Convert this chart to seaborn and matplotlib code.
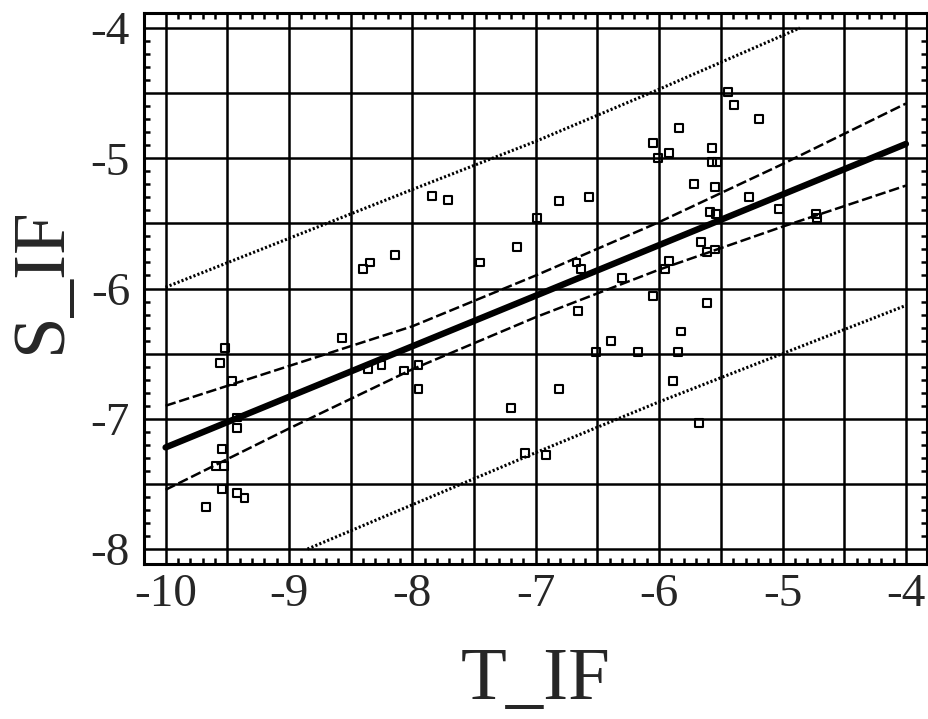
import matplotlib
matplotlib.use("Agg")
import numpy as np
import matplotlib.pyplot as plt
import seaborn as sns
from matplotlib.markers import MarkerStyle
from matplotlib.ticker import MultipleLocator, FixedLocator, FuncFormatter

# scatter points
t_if = [-9.52, -9.56, -9.46, -9.42, -9.42, -9.54, -9.59, -9.53, -9.54, -9.42,
        -9.36, -9.67, -8.57, -8.36, -8.25, -8.07, -7.95, -7.95, -8.40, -8.34,
        -8.14, -7.84, -7.71, -6.81, -6.57, -6.99, -7.15, -7.45, -6.67, -6.63,
        -6.30, -6.66, -6.39, -6.51, -6.17, -6.81, -7.20, -7.09, -6.92, -5.44,
        -5.39, -5.19, -5.84, -6.05, -5.57, -5.92, -6.01, -5.57, -5.53, -5.72,
        -5.55, -5.27, -5.03, -4.73, -4.72, -5.59, -5.54, -5.66, -5.61, -5.55,
        -5.92, -5.95, -6.05, -5.61, -5.82, -5.85, -5.89, -5.68]
s_if = [-6.46, -6.57, -6.71, -6.99, -7.07, -7.23, -7.36, -7.36, -7.54, -7.57,
        -7.61, -7.68, -6.38, -6.62, -6.59, -6.63, -6.59, -6.77, -5.85, -5.80,
        -5.74, -5.29, -5.32, -5.33, -5.30, -5.46, -5.68, -5.80, -5.80, -5.85,
        -5.92, -6.17, -6.40, -6.49, -6.49, -6.77, -6.92, -7.26, -7.28, -4.49,
        -4.59, -4.70, -4.77, -4.88, -4.92, -4.96, -5.00, -5.03, -5.03, -5.20,
        -5.22, -5.30, -5.39, -5.43, -5.46, -5.41, -5.43, -5.64, -5.72, -5.70,
        -5.79, -5.85, -6.06, -6.11, -6.33, -6.49, -6.71, -7.03]

# regression line and bands
fit_x = [-10, -4]
fit_y = [-7.22, -4.89]

conf_x = [-10, -9, -8, -7, -6, -5, -4]
conf_upper = [-6.90, -6.595, -6.29, -5.90, -5.49, -5.045, -4.58]
conf_lower = [-7.545, -7.075, -6.62, -6.22, -5.855, -5.525, -5.21]

pred_upper_x = [-10, -9, -8, -7, -6, -4.86]
pred_upper_y = [-5.99, -5.615, -5.24, -4.87, -4.47, -4.0]
pred_lower_x = [-8.85, -8, -7, -6, -5, -4]
pred_lower_y = [-8.0, -7.66, -7.26, -6.87, -6.50, -6.13]

sns.set_style("white")
plt.rcParams["font.family"] = ["Liberation Serif", "DejaVu Serif"]
plt.rcParams["axes.unicode_minus"] = False

fig = plt.figure(figsize=(9.29, 7.19), dpi=100)
ax = fig.add_axes([144 / 929, 155 / 719, 783.5 / 929, 551.5 / 719])

dotted = (0, (0.7, 0.7))
dashed = (0, (4.2, 1.5))
sns.lineplot(x=pred_upper_x, y=pred_upper_y, color="black", lw=2.2,
             linestyle=dotted, sort=False, ax=ax)
sns.lineplot(x=pred_lower_x, y=pred_lower_y, color="black", lw=2.2,
             linestyle=dotted, sort=False, ax=ax)
sns.lineplot(x=conf_x, y=conf_upper, color="black", lw=1.8,
             linestyle=dashed, sort=False, ax=ax)
sns.lineplot(x=conf_x, y=conf_lower, color="black", lw=1.8,
             linestyle=dashed, sort=False, ax=ax)
sns.lineplot(x=fit_x, y=fit_y, color="black", lw=4.6, sort=False, ax=ax)
sns.scatterplot(x=t_if, y=s_if, marker=MarkerStyle("s", fillstyle="none"),
                color="black", s=32, linewidth=1.5, zorder=4, ax=ax)

ax.set_xlim(-10.175, -3.825)
ax.set_ylim(-8.115, -3.881)

ax.xaxis.set_major_locator(MultipleLocator(0.5))
ax.yaxis.set_major_locator(MultipleLocator(0.5))
int_only = FuncFormatter(lambda v, p: f"{v:.0f}" if abs(v - round(v)) < 1e-6 else "")
ax.xaxis.set_major_formatter(int_only)
ax.yaxis.set_major_formatter(int_only)
ax.xaxis.set_minor_locator(FixedLocator(np.arange(-100, -39) / 10))
ax.yaxis.set_minor_locator(FixedLocator(np.arange(-80, -39) / 10))

ax.set_axisbelow(True)
ax.grid(True, which="major", color="black", lw=1.8)
ax.tick_params(which="major", length=0, labelsize=34)
ax.tick_params(axis="x", which="major", pad=7)
ax.tick_params(axis="y", which="major", pad=10)
ax.tick_params(which="minor", direction="in", length=4, width=1.8,
               top=True, right=True, bottom=True, left=True, color="black")
for sp in ax.spines.values():
    sp.set_color("black")
    sp.set_linewidth(2.2)

ax.set_xlabel("T_IF", fontsize=54)
ax.xaxis.label.set_va("baseline")
ax.xaxis.set_label_coords(0.5, -0.245)
ax.set_ylabel("S_IF", fontsize=54)
ax.yaxis.set_label_coords(-0.087, 0.515)

fig.savefig("out.png", dpi=100)
